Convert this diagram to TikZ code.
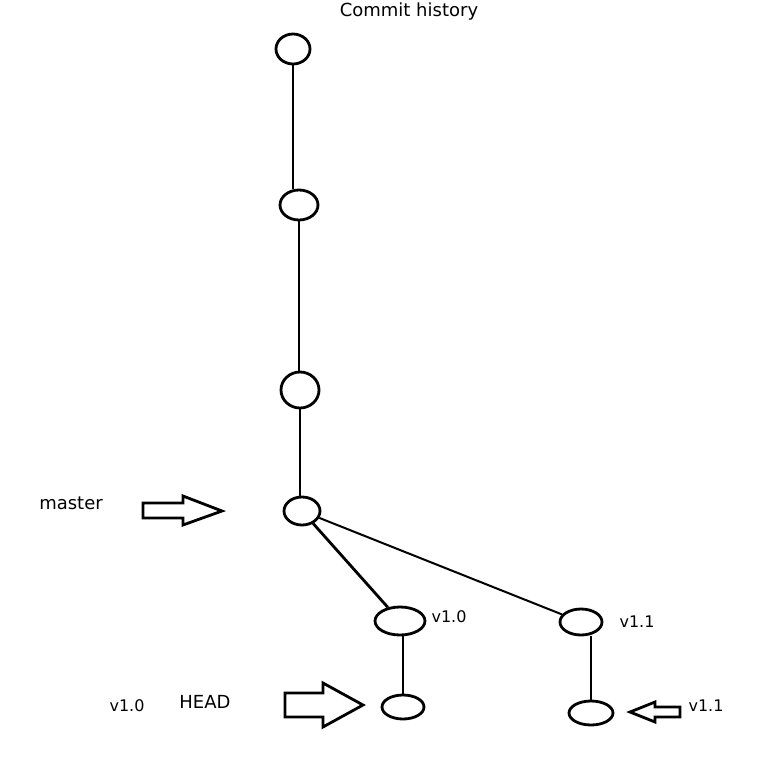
\documentclass[tikz,border=0pt]{standalone}
\usepackage{fontspec}
\setmainfont{DejaVu Sans}
\usetikzlibrary{shapes.geometric}

\begin{document}
\begin{tikzpicture}[x=1pt,y=-1pt,
    commit/.style={draw,ellipse,line width=2.8pt,inner sep=0pt},
    hand/.style={font=\fontsize{18}{20}\selectfont,inner sep=0pt},
    tag/.style={font=\fontsize{16}{18}\selectfont,inner sep=0pt}]
      \useasboundingbox (0,0) rectangle (757,763);
      \node[hand] (title) at (409,12) {Commit history};
      \node[commit,minimum width=34pt,minimum height=30pt] (c1) at (293,49) {};
      \node[commit,minimum width=38pt,minimum height=30pt] (c2) at (299,205) {};
      \node[commit,minimum width=38pt,minimum height=36pt] (c3) at (300,390) {};
      \node[commit,minimum width=36pt,minimum height=28pt] (c4) at (302,511) {};
      \node[commit,minimum width=50pt,minimum height=28pt] (c5) at (400,621) {};
      \node[commit,minimum width=42pt,minimum height=24pt] (c6) at (403,707) {};
      \node[commit,minimum width=42pt,minimum height=26pt] (c7) at (581,622) {};
      \node[commit,minimum width=44pt,minimum height=24pt] (c8) at (591,713) {};
      \draw[line width=2.8pt] (c1.south) -- (c1.south |- c2.north);
      \draw[line width=2.8pt] (c2.south) -- (c2.south |- c3.north);
      \draw[line width=2.8pt] (c3.south) -- (c3.south |- c4.north);
      \draw[line width=2.8pt] (c4) -- (c5);
      \draw[line width=2pt] (c4) -- (c7);
      \draw[line width=2.8pt] (c6.north |- c5.south) -- (c6.north);
      \draw[line width=2.8pt] (c8.north |- c7.south) -- (c8.north);
      \node[hand] (master) at (71,503) {master};
      \node[hand] (head) at (205,702) {HEAD};
      \node[tag] (tagA) at (127,706) {v1.0};
      \node[tag] (tagB) at (449,617) {v1.0};
      \node[tag] (tagC) at (637,622) {v1.1};
      \node[tag] (tagD) at (706,706) {v1.1};
      % block arrows
      \draw[line width=2.8pt,line join=miter]
        (143,503) -- (183,503) -- (183,496) -- (222,511) -- (183,525)
        -- (183,518) -- (143,518) -- cycle;
      \draw[line width=2.8pt,line join=miter]
        (285,693) -- (323,693) -- (323,683) -- (363,705) -- (323,727)
        -- (323,717) -- (285,717) -- cycle;
      \draw[line width=2.8pt,line join=miter]
        (680,707) -- (655,707) -- (655,702) -- (630,712) -- (655,722)
        -- (655,717) -- (680,717) -- cycle;
    \end{tikzpicture}
\end{document}
